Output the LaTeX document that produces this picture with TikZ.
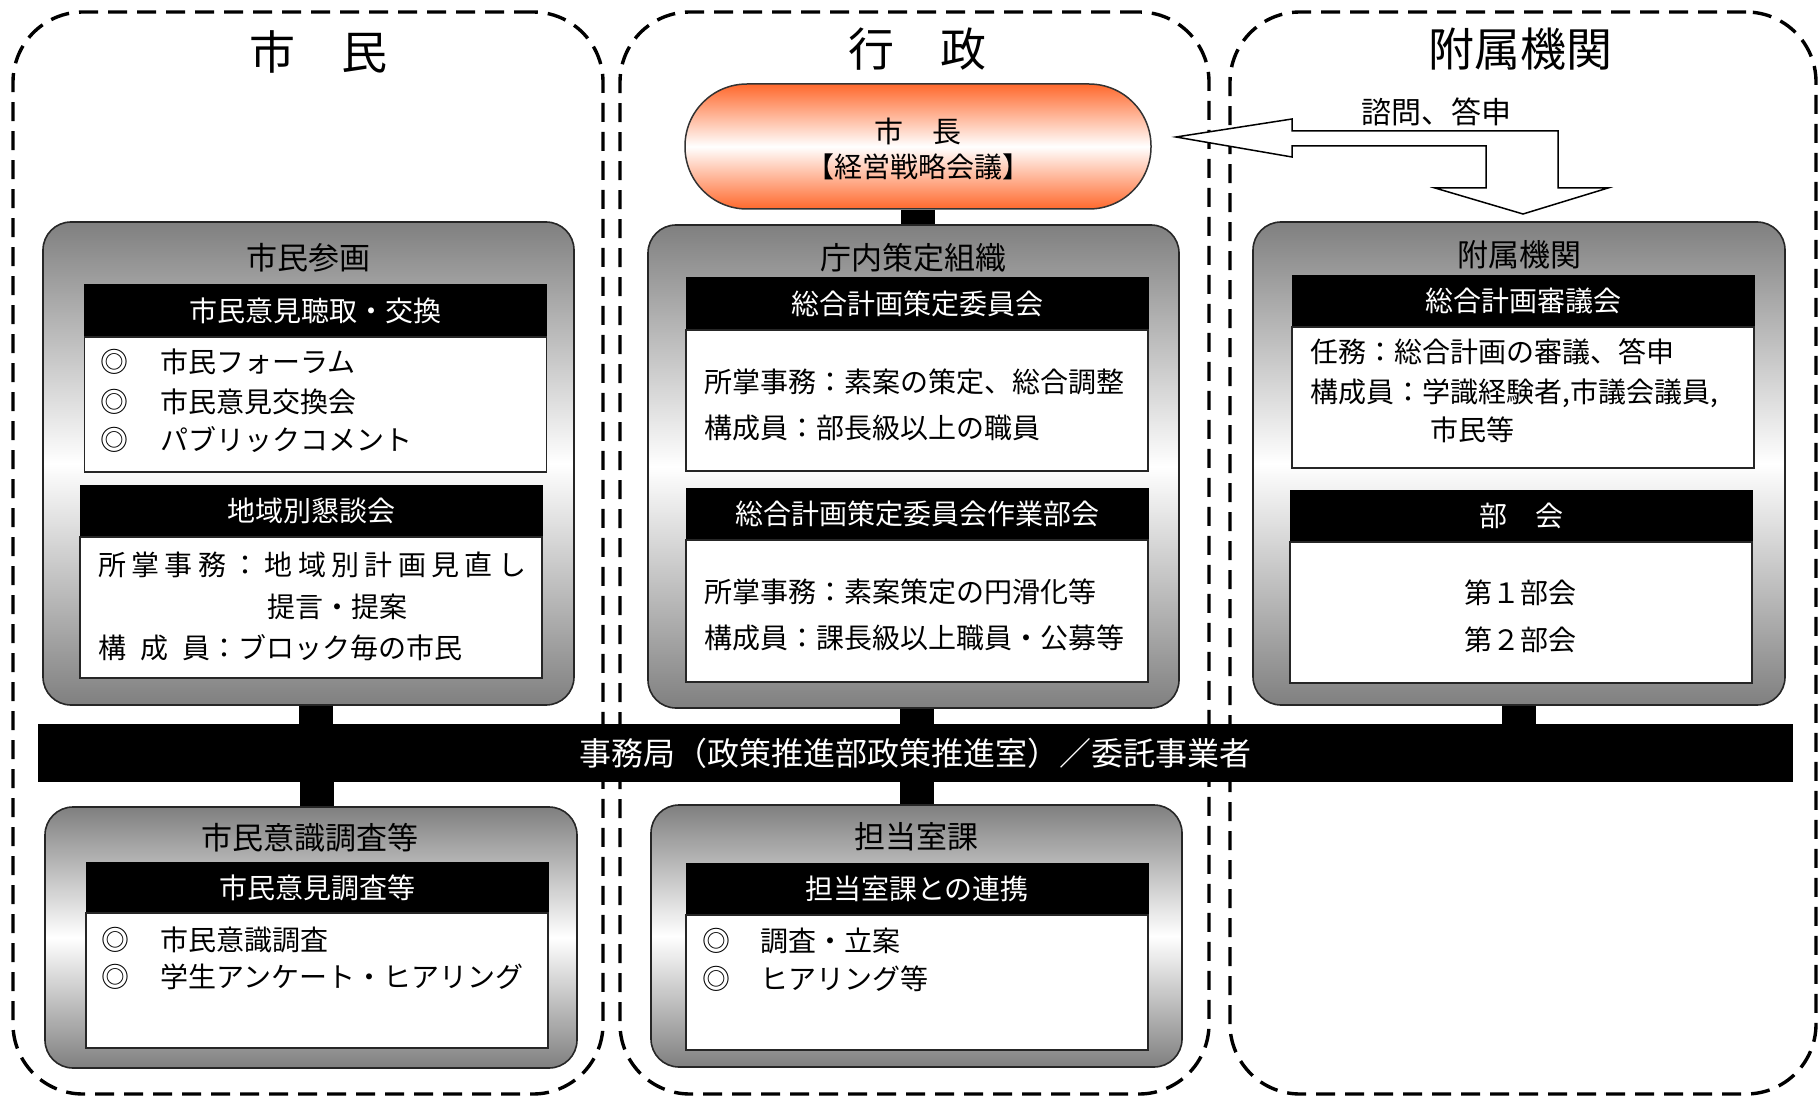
\documentclass[tikz,border=0pt]{standalone}
\usepackage{fontspec}
\setmainfont{Noto Sans CJK JP}
\usetikzlibrary{calc}
\definecolor{boxgray}{gray}{0.5}
\definecolor{mayororange}{RGB}{255,105,45}
\newcommand{\fsz}[1]{\fontsize{#1pt}{#1pt}\selectfont}
\begin{document}
\begin{tikzpicture}[x=1pt,y=-1pt,
  region/.style={draw, rectangle, line width=3.4pt, dash pattern=on 19pt off 10pt, rounded corners=70pt, inner sep=0pt},
  gbox/.style={draw=black!85, rectangle, line width=1.6pt, rounded corners=28pt, top color=boxgray, bottom color=boxgray, middle color=white, inner sep=0pt},
  hdr/.style={fill=black, draw=black, rectangle, text=white, font=\fsz{28}, minimum width=462pt, minimum height=52pt, inner sep=0pt},
  bodyb/.style={fill=white, draw=black!85, rectangle, line width=1.5pt, minimum width=462pt, inner sep=0pt},
  txt/.style={anchor=west, inner sep=0pt, font=\fsz{28}},
  ctxt/.style={inner sep=0pt, font=\fsz{28}},
  btitle/.style={inner sep=0pt, font=\fsz{31}},
  rtitle/.style={inner sep=0pt, font=\fsz{46}},
  conn/.style={line width=34pt, draw=black},
  mayorbox/.style={draw=black!80, rectangle, line width=1.5pt, rounded corners=62pt, top color=mayororange, bottom color=mayororange, middle color=white, minimum width=466pt, minimum height=125pt, inner sep=0pt}
]
\useasboundingbox (0,0) rectangle (1820,1099);

% dashed regions
\node[region, minimum width=590pt, minimum height=1082pt] (regL) at (308,553) {};
\node[region, minimum width=589pt, minimum height=1082pt] (regM) at (914.5,553) {};
\node[region, minimum width=586pt, minimum height=1082pt] (regR) at (1523,553) {};

% region titles
\node[rtitle] (tL) at (318,52) {市　民};
\node[rtitle] (tM) at (917,49) {行　政};
\node[rtitle] (tR) at (1520,49) {附属機関};

% block arrow (inquiry / report)
\draw[line width=1.5pt, fill=white, line join=miter]
  (1176,137) -- (1292,119) -- (1292,131) -- (1558,131) -- (1558,188) -- (1608,188)
  -- (1523,214) -- (1435,188) -- (1486,188) -- (1486,146) -- (1292,146) -- (1292,157) -- cycle;
\node[inner sep=0pt, font=\fsz{30}] (lbl) at (1436,112) {諮問、答申};

% main boxes
\node[gbox, minimum width=531pt, minimum height=483pt] (g1) at (308.5,463.5) {};
\node[gbox, minimum width=531pt, minimum height=483pt] (g2) at (913.5,466.5) {};
\node[gbox, minimum width=532pt, minimum height=483pt] (g3) at (1519,463.5) {};
\node[gbox, minimum width=532pt, minimum height=261pt] (g4) at (311,937.5) {};
\node[gbox, minimum width=531pt, minimum height=262pt] (g5) at (916.5,936) {};
\node[mayorbox] (mayor) at (918,146.5) {};
\node[fill=black, rectangle, text=white, font=\fsz{32}, minimum width=1755pt, minimum height=58pt, inner sep=0pt] (bar) at (915.5,753) {事務局（政策推進部政策推進室）／委託事業者};

% headers and bodies
\node[hdr, minimum height=53pt] (h1) at (315.5,310.5) {市民意見聴取・交換};
\node[bodyb, minimum height=135pt] (b1) at (315.5,404.5) {};
\node[hdr] (h2) at (311,511) {地域別懇談会};
\node[bodyb, minimum height=141pt] (b2) at (311,607.5) {};
\node[hdr, minimum height=53pt] (h3) at (917,303.5) {総合計画策定委員会};
\node[bodyb, minimum height=141pt] (b3) at (917,400.5) {};
\node[hdr] (h4) at (917,514) {総合計画策定委員会作業部会};
\node[bodyb, minimum height=142pt] (b4) at (917,611) {};
\node[hdr] (h5) at (1523,301) {総合計画審議会};
\node[bodyb, minimum height=141pt] (b5) at (1523,397.5) {};
\node[hdr] (h6) at (1521,516) {部　会};
\node[bodyb, minimum height=141pt] (b6) at (1521,612.5) {};
\node[hdr, minimum height=51pt] (h7) at (317,887.5) {市民意見調査等};
\node[bodyb, minimum height=135pt] (b7) at (317,980.5) {};
\node[hdr] (h8) at (917,889) {担当室課との連携};
\node[bodyb, minimum height=135pt] (b8) at (917,982.5) {};

% connectors
\draw[conn] (mayor.south) -- (mayor.south |- g2.north);
\draw[conn] (h1.south |- g1.south) -- (h1.south |- bar.north);
\draw[conn] (h3.south |- g2.south) -- (h3.south |- bar.north);
\draw[conn] (g3.south) -- (g3.south |- bar.north);
\draw[conn] (h7.north |- bar.south) -- (h7.north |- g4.north);
\draw[conn] (h8.north |- bar.south) -- (h8.north |- g5.north);

% box titles
\node[btitle] (tt1) at (308,258) {市民参画};
\node[btitle] (tt2) at (913,258) {庁内策定組織};
\node[btitle] (tt3) at (1519,255) {附属機関};
\node[btitle] (tt4) at (310,838) {市民意識調査等};
\node[btitle] (tt5) at (916,837) {担当室課};

% mayor text
\node[inner sep=0pt, font=\fsz{29}] (m1) at (918,131) {市　長};
\node[ctxt] (m2) at (918,167) {【経営戦略会議】};

% left upper texts
\node[txt] (c1) at (100,362) {◎};
\node[txt] (c1t) at (160,362) {市民フォーラム};
\node[txt] (c2) at (100,402) {◎};
\node[txt] (c2t) at (160,402) {市民意見交換会};
\node[txt] (c3) at (100,440) {◎};
\node[txt] (c3t) at (160,440) {パブリックコメント};
\node[txt] (d1) at (98,565) {\hbox to 428pt{所\hfill 掌\hfill 事\hfill 務\hfill ：\hfill 地\hfill 域\hfill 別\hfill 計\hfill 画\hfill 見\hfill 直\hfill し}};
\node[txt] (d2) at (267,607) {提言・提案};
\node[txt] (d3) at (98,648) {構\hspace{14pt}成\hspace{14pt}員：ブロック毎の市民};

% middle texts
\node[txt] (e1) at (704,382) {所掌事務：素案の策定、総合調整};
\node[txt] (e2) at (704,428) {構成員：部長級以上の職員};
\node[txt] (e3) at (704,592) {所掌事務：素案策定の円滑化等};
\node[txt] (e4) at (704,638) {構成員：課長級以上職員・公募等};

% right texts
\node[txt] (f1) at (1310,352) {任務：総合計画の審議、答申};
\node[txt] (f2) at (1310,393) {構成員：学識経験者,市議会議員,};
\node[txt] (f3) at (1430,430) {市民等};
\node[ctxt] (f4) at (1520,593) {第１部会};
\node[ctxt] (f5) at (1520,640) {第２部会};

% bottom texts
\node[txt] (k1) at (101,940) {◎};
\node[txt] (k1t) at (160,940) {市民意識調査};
\node[txt] (k2) at (101,977) {◎};
\node[txt] (k2t) at (160,977) {学生アンケート・ヒアリング};
\node[txt] (p1) at (702,941) {◎};
\node[txt] (p1t) at (760,941) {調査・立案};
\node[txt] (p2) at (702,979) {◎};
\node[txt] (p2t) at (760,979) {ヒアリング等};
\end{tikzpicture}
\end{document}
